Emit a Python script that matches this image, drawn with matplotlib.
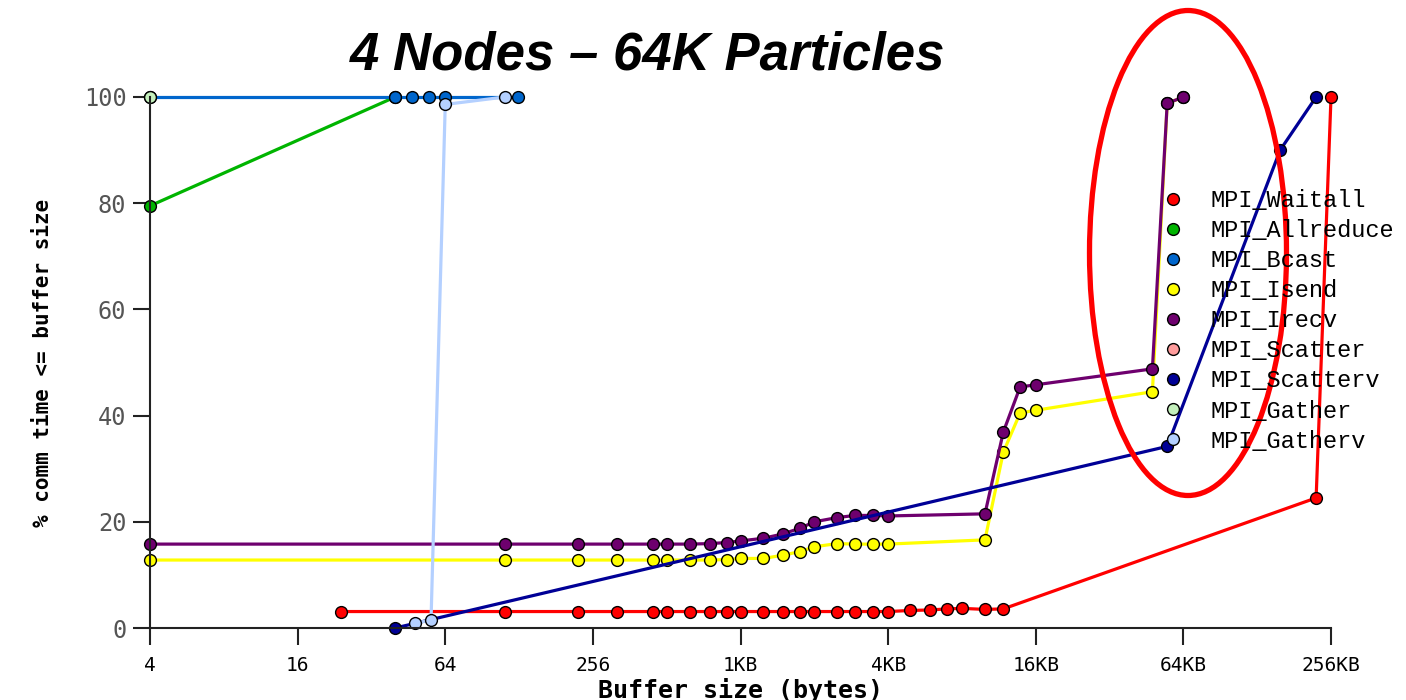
import matplotlib
matplotlib.use("Agg")
import matplotlib.pyplot as plt
from matplotlib.lines import Line2D
from matplotlib.patches import Ellipse

# message size (bytes) vs cumulative % of comm time, one pair of lists per call
waitall_x = [24, 112, 223, 321, 451, 512, 639, 770, 903, 1024, 1270, 1520, 1795, 2048,
             2540, 3000, 3560, 4096, 5040, 6090, 7140, 8192, 10170, 12080, 228000, 262144]
waitall_y = [3.1, 3.1, 3.1, 3.1, 3.1, 3.1, 3.1, 3.1, 3.1, 3.1, 3.1, 3.1, 3.1, 3.1,
             3.1, 3.1, 3.1, 3.1, 3.3, 3.4, 3.6, 3.7, 3.5, 3.6, 24.5, 100]

allreduce_x = [4, 40]
allreduce_y = [79.5, 100]

bcast_x = [4, 40, 47, 55, 64, 127]
bcast_y = [100, 100, 100, 100, 100, 100]

isend_x = [4, 112, 223, 321, 451, 512, 639, 770, 903, 1024, 1270, 1520, 1795, 2048,
           2540, 3000, 3560, 4096, 10170, 12080, 14150, 16384, 49000, 56300, 65536]
isend_y = [12.8, 12.8, 12.8, 12.8, 12.8, 12.8, 12.8, 12.8, 12.9, 13.1, 13.1, 13.7, 14.4, 15.3,
           15.9, 15.8, 15.8, 15.8, 16.6, 33.1, 40.5, 41.0, 44.5, 98.8, 100]

irecv_x = [4, 112, 223, 321, 451, 512, 639, 770, 903, 1024, 1270, 1520, 1795, 2048,
           2540, 3000, 3560, 4096, 10170, 12080, 14150, 16384, 49000, 56300, 65536]
irecv_y = [15.8, 15.8, 15.8, 15.8, 15.8, 15.8, 15.8, 15.9, 16.1, 16.4, 16.9, 17.7, 18.8, 20.0,
           20.8, 21.2, 21.2, 21.1, 21.5, 36.9, 45.4, 45.8, 48.8, 98.8, 100]

scatter_x = []
scatter_y = []

scatterv_x = [40, 56300, 162600, 228000]
scatterv_y = [0, 34.2, 90, 100]

gather_x = [4]
gather_y = [100]

gatherv_x = [48, 56, 64, 112]
gatherv_y = [0.9, 1.5, 98.6, 100]

names = ["MPI_Waitall", "MPI_Allreduce", "MPI_Bcast", "MPI_Isend", "MPI_Irecv",
         "MPI_Scatter", "MPI_Scatterv", "MPI_Gather", "MPI_Gatherv"]
colors = ["#ff0000", "#00b400", "#0066cc", "#ffff00", "#6e006e",
          "#ff9c9c", "#000096", "#c4f0bc", "#b4d0ff"]
series = [(waitall_x, waitall_y), (allreduce_x, allreduce_y), (bcast_x, bcast_y),
          (isend_x, isend_y), (irecv_x, irecv_y), (scatter_x, scatter_y),
          (scatterv_x, scatterv_y), (gather_x, gather_y), (gatherv_x, gatherv_y)]

xticks = [4, 16, 64, 256, 1024, 4096, 16384, 65536, 262144]
xticklabels = ["4", "16", "64", "256", "1KB", "4KB", "16KB", "64KB", "256KB"]
yticks = [0, 20, 40, 60, 80, 100]

W, H = 1406, 700
fig = plt.figure(figsize=(W / 100, H / 100), dpi=100)
ax = fig.add_axes([150 / W, (H - 628) / H, (1331 - 150) / W, (628 - 97) / H])

for (xs, ys), c in zip(series, colors):
    ax.plot(xs, ys, color=c, lw=2.3, marker="o", ms=8.5, mfc=c, mec="black",
            mew=1.0, clip_on=False)

ax.set_xscale("log", base=2)
ax.set_xlim(4, 262144)
ax.set_ylim(0, 100)
ax.set_xticks(xticks)
ax.set_xticklabels(xticklabels)
ax.minorticks_off()
ax.set_yticks(yticks)

for s in ["top", "right"]:
    ax.spines[s].set_visible(False)
for s in ["left", "bottom"]:
    ax.spines[s].set_linewidth(1.5)
    ax.spines[s].set_color("#222222")
ax.tick_params(axis="both", direction="out", length=12, width=1.5, color="#222222")
ax.tick_params(axis="x", pad=8, labelsize=14)
ax.tick_params(axis="y", pad=5, labelsize=17, labelcolor="#555555")
for lab in ax.get_xticklabels():
    lab.set_family("DejaVu Sans Mono")
for lab in ax.get_yticklabels():
    lab.set_family("DejaVu Sans Mono")

ax.set_xlabel("Buffer size (bytes)", fontsize=18, fontweight="bold",
              family="DejaVu Sans Mono", labelpad=2)
ax.set_ylabel("% comm time <= buffer size", fontsize=15, fontweight="bold",
              family="DejaVu Sans Mono", labelpad=22)

fig.text(648 / W, 1 - 55 / H, "4 Nodes \u2013 64K Particles", ha="center", va="center",
         fontsize=38, fontweight="bold", fontstyle="italic", family="Liberation Sans")

handles = [Line2D([], [], ls="none", marker="o", ms=8.5, mfc=c, mec="black", mew=1.0)
           for c in colors]
fig.legend(handles, names, loc="upper left", bbox_to_anchor=(1161 / W, 1 - 189 / H),
           bbox_transform=fig.transFigure, frameon=False, borderpad=0, borderaxespad=0,
           handlelength=1.0, handletextpad=1.1, labelspacing=0.30,
           prop={"family": "Liberation Mono", "size": 17})

# highlight around the jump near 64KB
fig.add_artist(Ellipse((1188 / W, 1 - 253 / H), 197 / W, 485 / H,
                       transform=fig.transFigure, fill=False, ec="#ff0000", lw=3.8))

fig.savefig("out.png", dpi=100)
